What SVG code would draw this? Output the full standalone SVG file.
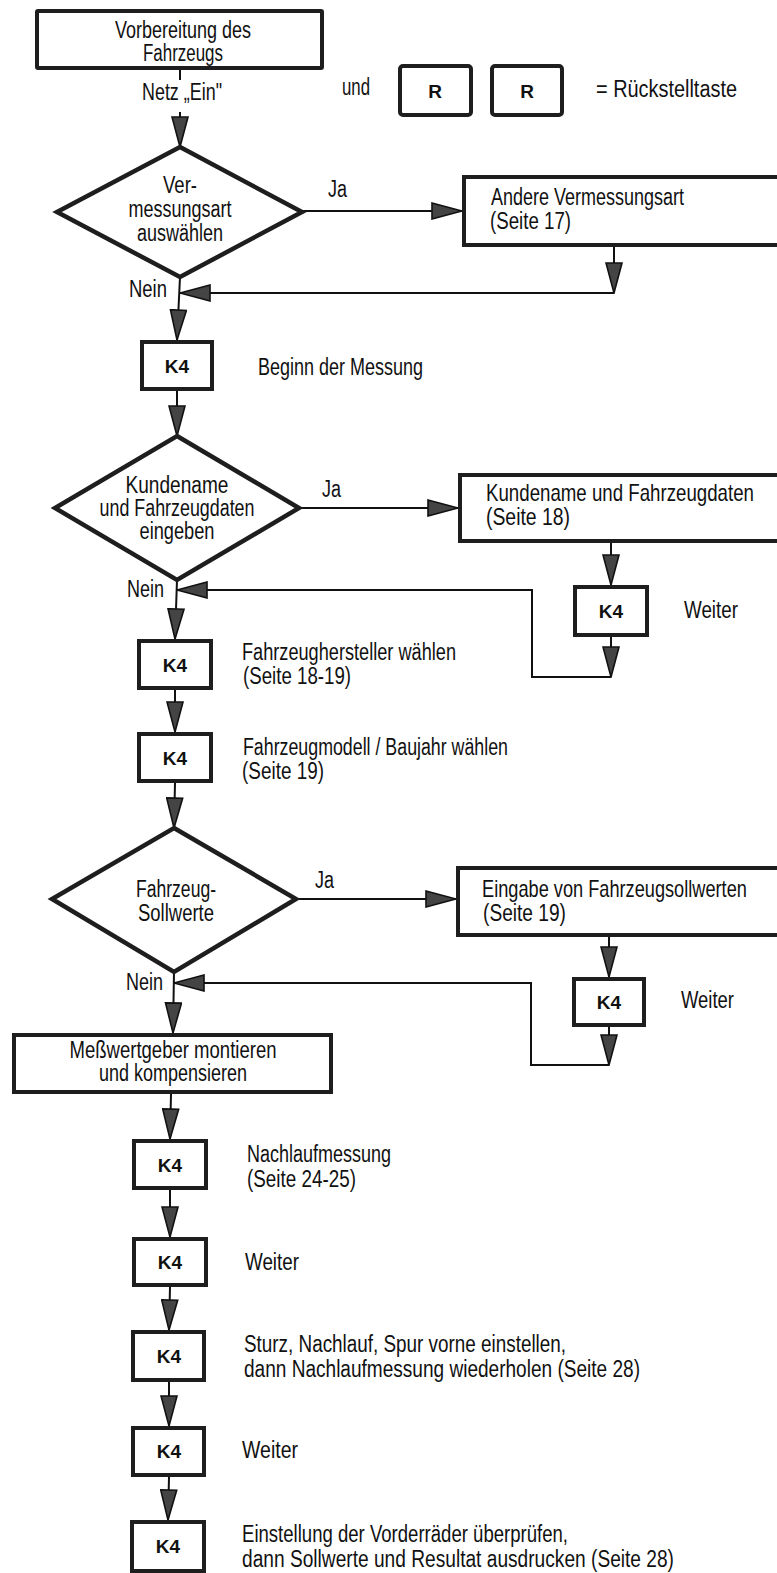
<svg xmlns="http://www.w3.org/2000/svg" width="777" height="1573" viewBox="0 0 777 1573">
<style>
.bx{fill:#fff;stroke:#1e1e1e;stroke-width:4}
.dm{fill:#fff;stroke:#1e1e1e;stroke-width:4.5;stroke-linejoin:miter}
.cn{fill:none;stroke:#111;stroke-width:2}
.t{font-family:"Liberation Sans Narrow","Liberation Sans",Arial,sans-serif;font-size:23px;fill:#111}
.c{text-anchor:middle}
.e{text-anchor:end}
.k{font-family:"Liberation Sans",Arial,sans-serif;font-size:19px;font-weight:bold;fill:#111;text-anchor:middle}
</style>
<defs>
<marker id="ah" viewBox="0 0 32 18" refX="31" refY="9" markerWidth="32" markerHeight="18" markerUnits="userSpaceOnUse" orient="auto">
<path d="M1,1 L31,9 L1,17 Z" fill="#444" stroke="#111" stroke-width="1.6"/>
</marker>
</defs>
<rect width="777" height="1573" fill="#fff"/>

<g id="connectors">
<line class="cn" x1="180" y1="70" x2="180" y2="80"/>
<path class="cn" d="M180,112 L180,147" marker-end="url(#ah)"/>
<path class="cn" d="M302,211 L462,211" marker-end="url(#ah)"/>
<path class="cn" d="M614,247 L614,293" marker-end="url(#ah)"/>
<path class="cn" d="M614,293 L180,293" marker-end="url(#ah)"/>
<path class="cn" d="M180,277 L177,340" marker-end="url(#ah)"/>
<path class="cn" d="M177,391 L177,436" marker-end="url(#ah)"/>
<path class="cn" d="M299,508 L458,508" marker-end="url(#ah)"/>
<path class="cn" d="M611,543 L611,585" marker-end="url(#ah)"/>
<path class="cn" d="M611,637 L611,677" marker-end="url(#ah)"/>
<path class="cn" d="M611,677 L532,677 L532,590 L177,590" marker-end="url(#ah)"/>
<path class="cn" d="M177,580 L175,639" marker-end="url(#ah)"/>
<path class="cn" d="M175,690 L175,732" marker-end="url(#ah)"/>
<path class="cn" d="M175,783 L174,828" marker-end="url(#ah)"/>
<path class="cn" d="M296,899 L456,899" marker-end="url(#ah)"/>
<path class="cn" d="M609,937 L609,977" marker-end="url(#ah)"/>
<path class="cn" d="M609,1027 L609,1065" marker-end="url(#ah)"/>
<path class="cn" d="M609,1065 L531,1065 L531,983 L174,983" marker-end="url(#ah)"/>
<path class="cn" d="M174,972 L173,1033" marker-end="url(#ah)"/>
<path class="cn" d="M171,1094 L170,1139" marker-end="url(#ah)"/>
<path class="cn" d="M170,1190 L170,1237" marker-end="url(#ah)"/>
<path class="cn" d="M170,1287 L169,1330" marker-end="url(#ah)"/>
<path class="cn" d="M169,1382 L169,1426" marker-end="url(#ah)"/>
<path class="cn" d="M169,1477 L168,1520" marker-end="url(#ah)"/>
</g>

<g id="n-vorbereitung">
<rect class="bx" x="37" y="11" width="285" height="57" rx="1"/>
<text class="t c" x="183" y="38" textLength="136" lengthAdjust="spacingAndGlyphs">Vorbereitung des</text>
<text class="t c" x="183" y="61" textLength="80" lengthAdjust="spacingAndGlyphs">Fahrzeugs</text>
</g>
<text class="t c" x="182" y="100" textLength="80" lengthAdjust="spacingAndGlyphs">Netz „Ein"</text>

<g id="legend">
<text class="t" x="342" y="95" textLength="28" lengthAdjust="spacingAndGlyphs">und</text>
<rect class="bx" x="400" y="66" width="71" height="49" rx="3"/>
<text class="k" x="435" y="98" font-size="20">R</text>
<rect class="bx" x="492" y="66" width="70" height="49" rx="3"/>
<text class="k" x="527" y="98" font-size="20">R</text>
<text class="t" x="596" y="97" textLength="141" lengthAdjust="spacingAndGlyphs">= Rückstelltaste</text>
</g>

<g id="d-vermessungsart">
<polygon class="dm" points="180,147 302,212 180,277 57,212"/>
<text class="t c" x="180" y="193" textLength="34" lengthAdjust="spacingAndGlyphs">Ver-</text>
<text class="t c" x="180" y="217" textLength="103" lengthAdjust="spacingAndGlyphs">messungsart</text>
<text class="t c" x="180" y="241" textLength="86" lengthAdjust="spacingAndGlyphs">auswählen</text>
</g>
<text class="t" x="328" y="197" textLength="19" lengthAdjust="spacingAndGlyphs">Ja</text>
<text class="t e" x="167" y="297" textLength="38" lengthAdjust="spacingAndGlyphs">Nein</text>

<g id="n-andere">
<path class="bx" d="M777,177 H464 V245 H777"/>
<text class="t" x="491" y="205" textLength="193" lengthAdjust="spacingAndGlyphs">Andere Vermessungsart</text>
<text class="t" x="490" y="229" textLength="81" lengthAdjust="spacingAndGlyphs">(Seite 17)</text>
</g>

<g id="k4-beginn">
<rect class="bx" x="142" y="342" width="70" height="47"/>
<text class="k" x="177" y="373">K4</text>
<text class="t" x="258" y="375" textLength="165" lengthAdjust="spacingAndGlyphs">Beginn der Messung</text>
</g>

<g id="d-kundenname">
<polygon class="dm" points="177,436 299,508 177,580 55,508"/>
<text class="t c" x="177" y="493" textLength="103" lengthAdjust="spacingAndGlyphs">Kundename</text>
<text class="t c" x="177" y="516" textLength="155" lengthAdjust="spacingAndGlyphs">und Fahrzeugdaten</text>
<text class="t c" x="177" y="539" textLength="75" lengthAdjust="spacingAndGlyphs">eingeben</text>
</g>
<text class="t" x="322" y="497" textLength="19" lengthAdjust="spacingAndGlyphs">Ja</text>
<text class="t e" x="164" y="597" textLength="37" lengthAdjust="spacingAndGlyphs">Nein</text>

<g id="n-kundenname">
<path class="bx" d="M777,475 H460 V541 H777"/>
<text class="t" transform="translate(486 501) scale(0.88 1)" textLength="304.5" lengthAdjust="spacingAndGlyphs">Kundename und Fahrzeugdaten</text>
<text class="t" x="486" y="525" textLength="84" lengthAdjust="spacingAndGlyphs">(Seite 18)</text>
</g>

<g id="k4-weiter-1">
<rect class="bx" x="575" y="587" width="72" height="48"/>
<text class="k" x="611" y="618">K4</text>
<text class="t" x="684" y="618" textLength="54" lengthAdjust="spacingAndGlyphs">Weiter</text>
</g>

<g id="k4-hersteller">
<rect class="bx" x="139" y="641" width="72" height="47"/>
<text class="k" x="175" y="672">K4</text>
<text class="t" x="242" y="660" textLength="214" lengthAdjust="spacingAndGlyphs">Fahrzeughersteller wählen</text>
<text class="t" x="243" y="684" textLength="108" lengthAdjust="spacingAndGlyphs">(Seite 18-19)</text>
</g>

<g id="k4-modell">
<rect class="bx" x="139" y="734" width="72" height="47"/>
<text class="k" x="175" y="765">K4</text>
<text class="t" x="243" y="755" textLength="265" lengthAdjust="spacingAndGlyphs">Fahrzeugmodell / Baujahr wählen</text>
<text class="t" x="242" y="779" textLength="82" lengthAdjust="spacingAndGlyphs">(Seite 19)</text>
</g>

<g id="d-sollwerte">
<polygon class="dm" points="174,828 296,899 174,972 52,899"/>
<text class="t c" x="176" y="897" textLength="80" lengthAdjust="spacingAndGlyphs">Fahrzeug-</text>
<text class="t c" x="176" y="921" textLength="76" lengthAdjust="spacingAndGlyphs">Sollwerte</text>
</g>
<text class="t" x="315" y="888" textLength="19" lengthAdjust="spacingAndGlyphs">Ja</text>
<text class="t e" x="163" y="990" textLength="37" lengthAdjust="spacingAndGlyphs">Nein</text>

<g id="n-eingabe">
<path class="bx" d="M777,868 H458 V935 H777"/>
<text class="t" transform="translate(482 897) scale(0.88 1)" textLength="301" lengthAdjust="spacingAndGlyphs">Eingabe von Fahrzeugsollwerten</text>
<text class="t" x="483" y="921" textLength="83" lengthAdjust="spacingAndGlyphs">(Seite 19)</text>
</g>

<g id="k4-weiter-2">
<rect class="bx" x="574" y="979" width="70" height="46"/>
<text class="k" x="609" y="1009">K4</text>
<text class="t" x="681" y="1008" textLength="53" lengthAdjust="spacingAndGlyphs">Weiter</text>
</g>

<g id="n-messwertgeber">
<rect class="bx" x="14" y="1035" width="317" height="57"/>
<text class="t c" x="173" y="1058" textLength="207" lengthAdjust="spacingAndGlyphs">Meßwertgeber montieren</text>
<text class="t c" x="173" y="1081" textLength="148" lengthAdjust="spacingAndGlyphs">und kompensieren</text>
</g>

<g id="k4-nachlauf">
<rect class="bx" x="134" y="1141" width="72" height="47"/>
<text class="k" x="170" y="1172">K4</text>
<text class="t" x="247" y="1162" textLength="144" lengthAdjust="spacingAndGlyphs">Nachlaufmessung</text>
<text class="t" x="247" y="1187" textLength="109" lengthAdjust="spacingAndGlyphs">(Seite 24-25)</text>
</g>

<g id="k4-weiter-3">
<rect class="bx" x="134" y="1239" width="72" height="46"/>
<text class="k" x="170" y="1269">K4</text>
<text class="t" x="245" y="1270" textLength="54" lengthAdjust="spacingAndGlyphs">Weiter</text>
</g>

<g id="k4-sturz">
<rect class="bx" x="133" y="1332" width="71" height="48"/>
<text class="k" x="169" y="1363">K4</text>
<text class="t" x="244" y="1352" textLength="322" lengthAdjust="spacingAndGlyphs">Sturz, Nachlauf, Spur vorne einstellen,</text>
<text class="t" x="244" y="1377" textLength="396" lengthAdjust="spacingAndGlyphs">dann Nachlaufmessung wiederholen  (Seite 28)</text>
</g>

<g id="k4-weiter-4">
<rect class="bx" x="133" y="1428" width="71" height="47"/>
<text class="k" x="169" y="1458">K4</text>
<text class="t" x="242" y="1458" textLength="56" lengthAdjust="spacingAndGlyphs">Weiter</text>
</g>

<g id="k4-einstellung">
<rect class="bx" x="132" y="1522" width="72" height="49"/>
<text class="k" x="168" y="1553">K4</text>
<text class="t" x="242" y="1542" textLength="326" lengthAdjust="spacingAndGlyphs">Einstellung der Vorderräder überprüfen,</text>
<text class="t" x="242" y="1567" textLength="432" lengthAdjust="spacingAndGlyphs">dann Sollwerte und Resultat ausdrucken  (Seite 28)</text>
</g>
</svg>
